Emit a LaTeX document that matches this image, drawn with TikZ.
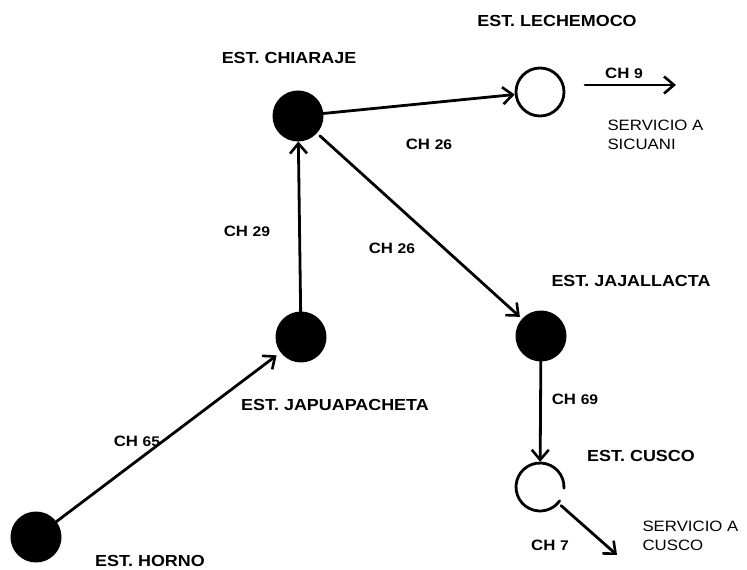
\documentclass[tikz,border=0pt]{standalone}
\usepackage{fontspec}
\setmainfont{Liberation Sans}[FakeStretch=1.12]
\usetikzlibrary{arrows.meta}

\newcommand{\chnum}[1]{{\fontsize{14}{16}\selectfont #1}}

\begin{document}
\begin{tikzpicture}[line cap=round, line join=round, x=1pt, y=1pt,
        est/.style={circle, draw, line width=2pt, fill=black, minimum size=49pt, inner sep=0pt},
        estopen/.style={circle, draw, line width=2.8pt, fill=white, minimum size=48pt, inner sep=0pt},
        lbl/.style={font=\fontsize{16}{18}\selectfont\bfseries},
        chlbl/.style={font=\fontsize{15}{19}\selectfont\bfseries},
        flow/.style={line width=2.8pt, -{Straight Barb[length=10pt, width=17pt, line width=2.6pt]}}]
                \useasboundingbox (0, 0) rectangle (747, 570);

                % Estaciones
                \node[est] (chiaraje) at (298, 454) {};
                \node[estopen] (lechemoco) at (540, 478) {};
                \node[est] (japua) at (301, 233) {};
                \node[est] (horno) at (36, 33) {};
                \node[est] (jajallacta) at (541, 234) {};
                \node[circle, minimum size=50pt, inner sep=0pt] (cusco) at (540, 83) {};
                \draw[line width=2.8pt] (cusco.center) ++(-3:24) arc (-3:325:24);

                % Nombres
                \node[lbl] (nlechemoco) at (557, 549) {EST. LECHEMOCO};
                \node[lbl] (nchiaraje) at (289, 512) {EST. CHIARAJE};
                \node[lbl] (njajallacta) at (631, 289) {EST. JAJALLACTA};
                \node[lbl] (njapua) at (335, 165) {EST. JAPUAPACHETA};
                \node[lbl] (nhorno) at (150, 9) {EST. HORNO};
                \node[lbl] (ncusco) at (641, 114) {EST. CUSCO};

                % Enlaces
                \draw[flow] (chiaraje) -- (lechemoco);
                \draw[flow] (japua) -- (chiaraje);
                \draw[flow, shorten <=4pt, shorten >=3pt] (chiaraje) -- (jajallacta);
                \draw[flow, shorten >=5pt] (horno) -- (japua);
                \draw[flow] (jajallacta) -- (cusco);

                % Salidas
                \coordinate (sicuani0) at (585, 485);
                \coordinate (sicuani1) at (676, 485);
                \draw[flow] (sicuani0) -- (sicuani1);
                \coordinate (cusco1) at (617, 15);
                \draw[flow, shorten <=3pt] (cusco) -- (cusco1);

                % Canales
                \node[chlbl] (ch26a) at (429, 426) {CH \chnum{26}};
                \node[chlbl] (ch29) at (247, 339) {CH \chnum{29}};
                \node[chlbl] (ch26b) at (392, 322) {CH \chnum{26}};
                \node[chlbl] (ch65) at (137, 129) {CH \chnum{65}};
                \node[chlbl] (ch69) at (575, 171) {CH \chnum{69}};
                \node[chlbl] (ch7) at (550, 25) {CH \chnum{7}};
                \node[chlbl] (ch9) at (624, 497) {CH \chnum{9}};
                \node[chlbl, font=\fontsize{15}{19}\selectfont, align=left, anchor=west] (servsicuani) at (604, 435) {SERVICIO A\\SICUANI};
                \node[chlbl, font=\fontsize{15}{19}\selectfont, align=left, anchor=west] (servcusco) at (639, 34) {SERVICIO A\\CUSCO};
            \end{tikzpicture}
\end{document}
